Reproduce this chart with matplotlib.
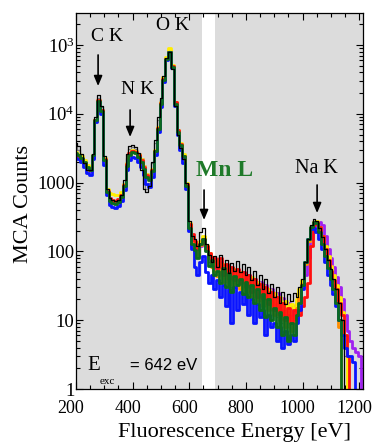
import numpy as np
import matplotlib
matplotlib.use("Agg")
import matplotlib.pyplot as plt
from matplotlib.ticker import MultipleLocator, LogLocator, NullFormatter, FixedLocator, FixedFormatter
from matplotlib.transforms import ScaledTranslation

plt.rcParams['font.family'] = ['Liberation Serif', 'DejaVu Serif']

# energy grid (eV), 10 eV bins from 200 to 1210
energy = np.arange(200, 1220, 10)

black = [3800, 3400, 2600, 1900, 1500, 1500, 2600, 9000, 18500, 13000,
         2400, 800, 600, 560, 540, 560, 650, 1100, 2600, 3400,
         3500, 3300, 2700, 1500, 820, 720, 900, 2000, 4200, 9000,
         17000, 36000, 65000, 80000, 45000, 13000, 5000, 3200, 2200, 1000,
         280, 170, 150, 120, 190, 220, 130, 90, 70, 85,
         60, 90, 55, 75, 48, 68, 52, 72, 50, 66,
         45, 60, 38, 52, 33, 46, 28, 40, 25, 34,
         22, 30, 18, 26, 17, 24, 19, 25, 22, 30,
         40, 70, 150, 240, 295, 280, 220, 160, 110, 75,
         55, 40, 28, 18, 10, 0.5, 0.5, 0.5, 0.5, 0.5,
         0.5, 0.5]

gray = [3300, 3000, 2500, 2100, 1700, 1600, 2500, 8500, 17000, 12500,
        2300, 780, 580, 540, 520, 550, 640, 1000, 2300, 3100,
        3300, 3100, 2600, 1700, 950, 800, 1000, 1900, 3800, 8000,
        16000, 34000, 63000, 78000, 46000, 13500, 5200, 3300, 2300, 950,
        240, 140, 120, 95, 140, 150, 100, 70, 58, 48,
        55, 38, 60, 36, 50, 30, 46, 34, 52, 30,
        40, 26, 36, 22, 30, 19, 28, 16, 22, 14,
        18, 11, 16, 9, 14, 8, 12, 10, 16, 22,
        36, 62, 140, 225, 280, 270, 205, 150, 100, 70,
        50, 36, 26, 16, 9, 3, 0.5, 0.5, 0.5, 0.5,
        0.5, 0.5]

blue = [2300, 2200, 2000, 1700, 1400, 1300, 2200, 7500, 15000, 10000,
        1800, 650, 470, 440, 430, 450, 540, 780, 1500, 2100,
        2350, 2300, 2000, 1700, 1300, 950, 850, 1200, 2500, 5500,
        12500, 29000, 60000, 78000, 47000, 13000, 5000, 3000, 1900, 800,
        200, 110, 60, 45, 70, 85, 50, 35, 45, 28,
        38, 22, 33, 16, 28, 9, 30, 14, 26, 17,
        24, 12, 20, 9, 17, 11, 14, 6, 12, 8,
        9, 5, 8, 4, 7, 4.5, 6, 5, 9, 14,
        28, 70, 150, 210, 220, 190, 150, 110, 70, 45,
        32, 24, 16, 10, 6, 4, 3, 3, 2.5, 0.5,
        0.5, 0.5]

green = [2700, 2500, 2300, 2000, 1700, 1500, 2500, 8000, 15500, 11000,
         2100, 720, 540, 500, 490, 520, 620, 880, 1750, 2500,
         2750, 2650, 2350, 2000, 1600, 1200, 1100, 1450, 2900, 6000,
         14000, 31000, 62000, 80000, 48000, 14000, 5500, 3500, 2400, 900,
         220, 130, 105, 80, 130, 150, 100, 62, 75, 45,
         52, 35, 58, 30, 48, 26, 44, 32, 40, 24,
         36, 22, 32, 18, 28, 14, 24, 11, 20, 10,
         15, 8, 13, 6, 11, 5, 9, 6, 12, 18,
         32, 70, 150, 230, 270, 255, 190, 130, 85, 58,
         40, 28, 18, 10, 0.5, 0.5, 0.5, 0.5, 0.5, 0.5,
         0.5, 0.5]

red = [2600, 2400, 2200, 1900, 1650, 1500, 2400, 8200, 16000, 11500,
       2200, 760, 600, 560, 540, 570, 660, 920, 1850, 2650,
       2900, 2800, 2500, 2100, 1700, 1300, 1200, 1500, 2900, 6200,
       14500, 32000, 63000, 79000, 50000, 15000, 5800, 3600, 2400, 950,
       250, 180, 140, 110, 130, 150, 120, 95, 70, 80,
       58, 80, 45, 66, 40, 60, 38, 56, 35, 50,
       30, 46, 26, 40, 22, 34, 20, 30, 17, 26,
       14, 22, 12, 18, 10, 15, 9, 14, 10, 12,
       16, 22, 35, 120, 240, 265, 230, 170, 110, 75,
       52, 38, 28, 18, 12, 6, 3, 0.5, 0.5, 0.5,
       0.5, 0.5]

yellow = [2800, 2600, 2400, 2100, 1800, 1600, 2500, 8000, 16000, 11500,
          2300, 800, 700, 680, 650, 660, 720, 950, 1900, 2700,
          3000, 2900, 2600, 2200, 1750, 1350, 1250, 1600, 3000, 6400,
          15000, 34000, 68000, 90000, 52000, 15000, 5800, 3800, 2600, 1000,
          260, 160, 130, 110, 140, 165, 125, 95, 78, 65,
          72, 48, 66, 42, 60, 38, 55, 36, 50, 32,
          46, 30, 42, 26, 36, 22, 32, 19, 28, 17,
          25, 15, 22, 13, 19, 12, 17, 15, 20, 28,
          38, 70, 140, 220, 270, 275, 230, 170, 120, 85,
          62, 45, 32, 22, 13, 6, 0.5, 0.5, 0.5, 0.5,
          0.5, 0.5]

purple = [2500, 2400, 2200, 1900, 1600, 1450, 2300, 7800, 15500, 11200,
          2100, 740, 570, 530, 520, 550, 640, 900, 1850, 2700,
          3000, 2900, 2600, 2200, 1750, 1350, 1250, 1550, 2900, 6200,
          14500, 33000, 64000, 82000, 49000, 14500, 5600, 3500, 2300, 900,
          210, 120, 100, 85, 120, 140, 105, 80, 62, 70,
          48, 70, 42, 62, 38, 58, 36, 54, 34, 50,
          32, 46, 28, 40, 25, 36, 22, 32, 20, 28,
          17, 25, 14, 21, 12, 18, 11, 16, 19, 25,
          30, 45, 80, 150, 210, 250, 265, 240, 170, 110,
          80, 60, 42, 30, 20, 12, 7, 5, 4, 3.5,
          3, 0.5]

orange = [2600, 2450, 2250, 1950, 1650, 1500, 2450, 8000, 15500, 11000,
          2150, 740, 560, 530, 510, 540, 640, 900, 1800, 2600,
          2850, 2750, 2450, 2050, 1650, 1250, 1150, 1500, 2850, 6100,
          14000, 31500, 62000, 80000, 48500, 14200, 5500, 3450, 2350, 920,
          225, 150, 110, 90, 125, 145, 110, 80, 60, 52,
          44, 60, 36, 54, 32, 48, 30, 44, 28, 40,
          26, 36, 22, 32, 19, 28, 16, 24, 14, 20,
          12, 17, 10, 14, 8, 12, 7, 11, 15, 21,
          34, 65, 140, 220, 265, 255, 200, 145, 95, 65,
          45, 32, 20, 8, 0.5, 0.5, 0.5, 0.5, 0.5, 0.5,
          0.5, 0.5]

series = [
    (gray, '#7a7a7a', 0.9),
    (purple, '#a020f0', 2.0),
    (yellow, '#ffee00', 2.0),
    (orange, '#ff8c00', 2.0),
    (red, '#ff1010', 2.0),
    (blue, '#0a14ff', 2.0),
    (green, '#0b6b1e', 2.0),
    (black, '#000000', 0.9),
]

y_ticks = [1, 10, 100, 1000, 1e4, 1e5]
y_labels = ['1', '10', '100', '1000', r'$\mathregular{10^4}$', r'$\mathregular{10^3}$']
x_ticks = [200, 400, 600, 800, 1000, 1200]

W, H = 376, 444
fig = plt.figure(figsize=(W / 100, H / 100), dpi=100)
L, R, T, B = 76, 363, 13, 389
ax = fig.add_axes([L / W, (H - B) / H, (R - L) / W, (B - T) / H])
ax.set_facecolor('#dcdcdc')
ax.axvspan(645, 690, color='white', zorder=0.5, lw=0)

for vals, col, lw in series:
    ax.plot(energy, vals, drawstyle='steps-mid', color=col, lw=lw, zorder=2)

ax.set_yscale('log')
ax.set_xlim(200, 1213)
ax.set_ylim(1, 10 ** 5.465)

ax.yaxis.set_major_locator(FixedLocator(y_ticks))
ax.yaxis.set_major_formatter(FixedFormatter(y_labels))
ax.yaxis.set_minor_locator(LogLocator(base=10, subs=np.arange(2, 10), numticks=20))
ax.yaxis.set_minor_formatter(NullFormatter())
ax.xaxis.set_major_locator(FixedLocator(x_ticks))
ax.xaxis.set_minor_locator(MultipleLocator(50))

ax.tick_params(which='both', direction='in', top=True, right=True, width=0.8, color='k')
ax.tick_params(which='major', length=5)
ax.tick_params(which='minor', length=3)
ax.tick_params(axis='y', labelsize=13.5, pad=1.0)
ax.tick_params(axis='x', labelsize=13, pad=8)
for s in ax.spines.values():
    s.set_linewidth(0.9)

off = ScaledTranslation(-5 / 100, 0, fig.dpi_scale_trans)
for lab in ax.get_xticklabels():
    lab.set_transform(lab.get_transform() + off)

fig.text(234 / W, 1 - 432 / H, 'Fluorescence Energy [eV]', ha='center', va='center', fontsize=16)
fig.text(24 / W, 1 - 204 / H, 'MCA Counts', ha='center', va='center', rotation=90, fontsize=16)

# peak labels
ax.text(309, 1.31e5, 'C K', ha='center', va='center', fontsize=14)
ax.text(419, 2.29e4, 'N K', ha='center', va='center', fontsize=14)
ax.text(539, 1.89e5, 'O K', ha='center', va='center', fontsize=14)
ax.text(726, 1475, 'Mn L', ha='center', va='center', fontsize=17, fontweight='bold', color='#1f7a2a')
ax.text(1047, 1577, 'Na K', ha='center', va='center', fontsize=14.5)

arrow = dict(arrowstyle='-|>,head_width=0.25,head_length=0.6', color='k', lw=1.2, shrinkA=0, shrinkB=0)
ax.annotate('', xy=(278, 25300), xytext=(278, 71600), arrowprops=arrow)
ax.annotate('', xy=(391, 4600), xytext=(391, 11360), arrowprops=arrow)
ax.annotate('', xy=(652, 286), xytext=(652, 780), arrowprops=arrow)
ax.annotate('', xy=(1051, 361), xytext=(1051, 923), arrowprops=arrow)

ax.text(264, 2.16, 'E', ha='center', va='center', fontsize=15)
ax.text(312, 1.28, 'exc', ha='center', va='center', fontsize=8)
ax.text(390, 2.16, '= 642 eV', ha='left', va='center', fontsize=12, family=['Liberation Sans', 'DejaVu Sans'])

fig.savefig('out.png', dpi=100)
